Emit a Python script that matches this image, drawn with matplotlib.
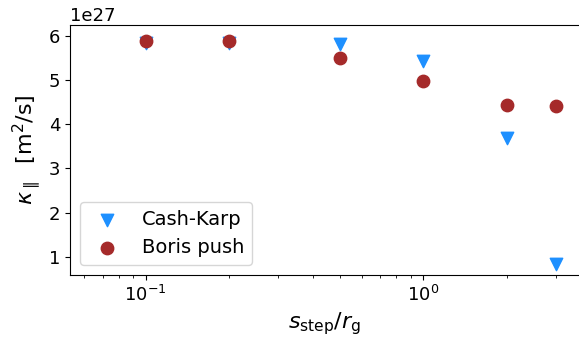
import matplotlib
matplotlib.use("Agg")
import matplotlib.pyplot as plt

x_vals = [0.1, 0.2, 0.5, 1.0, 2.0, 3.0]
cash_karp = [5.85e27, 5.85e27, 5.81e27, 5.43e27, 3.68e27, 0.84e27]
boris_push = [5.88e27, 5.88e27, 5.49e27, 4.97e27, 4.44e27, 4.41e27]

plt.rcParams['font.size'] = 13
fig = plt.figure(figsize=(5.79, 3.47), dpi=100)
ax = fig.add_axes([0.1209, 0.2075, 0.8791, 0.7205])
ax.scatter(x_vals, cash_karp, marker='v', s=80, color='dodgerblue', label='Cash-Karp', zorder=2)
ax.scatter(x_vals, boris_push, marker='o', s=80, color='brown', label='Boris push', zorder=3)
ax.set_xscale('log')
ax.set_xlim(0.0534, 3.64)
ax.set_ylim(0.586e27, 6.247e27)
ax.spines['right'].set_visible(False)
ax.set_xlabel(r'$s_\mathrm{step}/r_\mathrm{g}$', fontsize=16)
ax.set_ylabel(r'$\kappa_\parallel$  [m$^2$/s]', fontsize=16)
ax.legend(loc='lower left', fontsize=14)
fig.savefig('out.png', dpi=100)
